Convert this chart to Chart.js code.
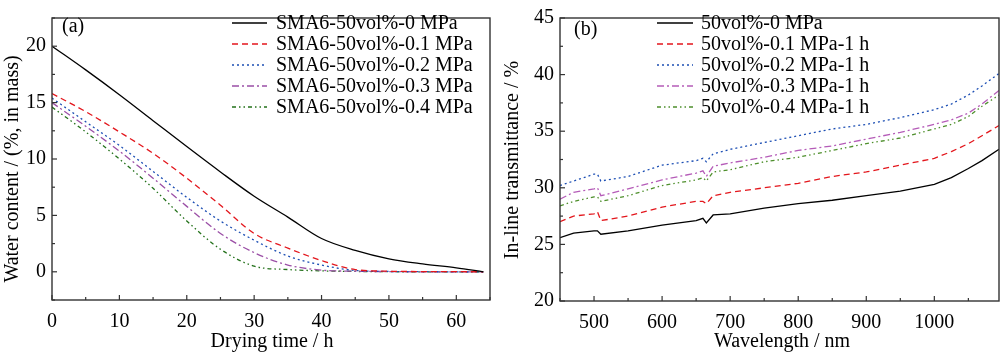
<!DOCTYPE html>
<html>
<head>
<meta charset="utf-8">
<script src="https://cdn.jsdelivr.net/npm/chart.js@4/dist/chart.umd.min.js"></script>
<style>
  body { margin: 0; background: #fff; }
  #wrap { position: relative; width: 1000px; height: 354px; }
  canvas { position: absolute; top: 0; }
</style>
</head>
<body>
<div id="wrap">
  <canvas id="chartA" width="500" height="354" style="left:0"></canvas>
  <canvas id="chartB" width="500" height="354" style="left:500px"></canvas>
</div>
<script>
// (a) drying curves
const dryingTime = [0, 5, 10, 15, 20, 25, 30, 35, 40, 45, 50, 55, 60, 64];
const water0 = [20.0, 17.9, 15.7, 13.4, 11.1, 8.85, 6.7, 4.85, 2.95, 1.9, 1.15, 0.7, 0.35, 0.0];
const water01 = [15.8, 14.2, 12.4, 10.5, 8.3, 5.9, 3.4, 2.1, 1.0, 0.2, 0.05, 0.02, 0.01, 0];
const water02 = [15.4, 13.3, 11.2, 8.9, 6.6, 4.5, 2.8, 1.4, 0.6, 0.12, 0.03, 0.01, 0, 0];
const water03 = [15.0, 12.9, 10.7, 8.3, 5.8, 3.4, 1.7, 0.6, 0.15, 0.05, 0.02, 0, 0, 0];
const water04 = [14.6, 12.4, 10.0, 7.4, 4.5, 2.0, 0.5, 0.2, 0.08, 0.03, 0.01, 0, 0, 0];
const labelsA = ['SMA6-50vol%-0 MPa', 'SMA6-50vol%-0.1 MPa', 'SMA6-50vol%-0.2 MPa',
                 'SMA6-50vol%-0.3 MPa', 'SMA6-50vol%-0.4 MPa'];

// (b) transmittance
const wavelength = [450, 470, 500, 505, 510, 550, 600, 650, 660, 665, 675, 700, 750, 800, 850, 900, 950, 1000, 1025, 1050, 1070, 1095];
const trans0  = [25.6, 26.0, 26.2, 26.2, 25.9, 26.2, 26.7, 27.1, 27.3, 26.9, 27.6, 27.7, 28.2, 28.6, 28.9, 29.3, 29.7, 30.3, 30.9, 31.7, 32.4, 33.4];
const trans01 = [27.0, 27.5, 27.7, 27.9, 27.1, 27.5, 28.3, 28.8, 28.8, 28.6, 29.3, 29.6, 30.0, 30.4, 31.0, 31.4, 32.0, 32.6, 33.2, 33.9, 34.6, 35.5];
const trans02 = [30.2, 30.6, 31.2, 31.2, 30.6, 31.0, 32.0, 32.4, 32.6, 32.3, 33.0, 33.4, 34.0, 34.6, 35.2, 35.6, 36.2, 36.9, 37.4, 38.2, 39.0, 40.1];
const trans03 = [29.0, 29.6, 29.9, 30.0, 29.3, 29.9, 30.7, 31.3, 31.5, 31.0, 31.9, 32.2, 32.7, 33.3, 33.7, 34.3, 34.9, 35.6, 36.0, 36.6, 37.4, 38.6];
const trans04 = [28.4, 28.8, 29.2, 29.2, 28.8, 29.3, 30.2, 30.7, 30.9, 30.6, 31.4, 31.6, 32.3, 32.7, 33.3, 33.9, 34.4, 35.2, 35.6, 36.3, 37.2, 38.2];
const labelsB = ['50vol%-0 MPa', '50vol%-0.1 MPa-1 h', '50vol%-0.2 MPa-1 h',
                 '50vol%-0.3 MPa-1 h', '50vol%-0.4 MPa-1 h'];

const FONT = 'Liberation Serif, Times New Roman, serif';
const colorsA = ['#000000', '#e3161c', '#1d4fb4', '#9b4fa6', '#23711a'];
const colorsB = ['#000000', '#e3161c', '#1d4fb4', '#b55cb8', '#4e8f2c'];
const dashes = [[], [6, 4], [2, 3], [7, 3, 2, 3], [4, 3, 1.5, 3, 1.5, 3]];

function toPoints(xs, ys) {
    return xs.map((x, i) => ({ x: x, y: ys[i] }));
}

function makeDatasets(xs, series, labels, colors, smooth) {
    return series.map((ys, i) => ({
        label: labels[i],
        data: toPoints(xs, ys),
        borderColor: colors[i],
        borderWidth: 1.3,
        borderDash: dashes[i],
        pointRadius: 0,
        fill: false,
        tension: 0,
        cubicInterpolationMode: smooth ? 'monotone' : 'default'
    }));
}

// frame, inward ticks, legend, panel label and axis titles
function framePlugin(cfg) {
    return {
        id: 'frame',
        afterDraw(chart) {
            const ctx = chart.ctx;
            const a = chart.chartArea;
            ctx.save();
            ctx.strokeStyle = '#333';
            ctx.lineWidth = 1.4;
            ctx.strokeRect(a.left, a.top, a.right - a.left, a.bottom - a.top);

            ctx.lineWidth = 1.2;
            const xs = chart.scales.x, ys = chart.scales.y;
            xs.ticks.forEach(t => {
                const p = xs.getPixelForValue(t.value);
                const len = t.value % cfg.xMajor === 0 ? 5 : 3;
                ctx.beginPath();
                ctx.moveTo(p, a.bottom);
                ctx.lineTo(p, a.bottom - len);
                ctx.stroke();
            });
            ys.ticks.forEach(t => {
                const p = ys.getPixelForValue(t.value);
                const len = t.value % cfg.yMajor === 0 ? 5 : 3;
                ctx.beginPath();
                ctx.moveTo(a.left, p);
                ctx.lineTo(a.left + len, p);
                ctx.stroke();
            });

            // legend
            ctx.font = '20px ' + FONT;
            ctx.textBaseline = 'middle';
            ctx.fillStyle = '#000';
            chart.data.datasets.forEach((ds, i) => {
                const y = cfg.legendY + i * 21;
                ctx.strokeStyle = ds.borderColor;
                ctx.lineWidth = 1.3;
                ctx.setLineDash(ds.borderDash);
                ctx.beginPath();
                ctx.moveTo(cfg.legendX0, y);
                ctx.lineTo(cfg.legendX1, y);
                ctx.stroke();
                ctx.setLineDash([]);
                ctx.fillText(ds.label, cfg.legendTextX, y + 1);
            });

            // panel label
            ctx.fillText(cfg.panel, cfg.panelX, cfg.panelY);

            // axis titles
            ctx.textAlign = 'center';
            ctx.fillText(cfg.xTitle, cfg.xTitleX, 342);
            ctx.translate(cfg.yTitleX, cfg.yTitleY);
            ctx.rotate(-Math.PI / 2);
            ctx.fillText(cfg.yTitle, 0, 0);
            ctx.restore();
        }
    };
}

function makeChart(id, datasets, sc, pad, cfg) {
    const tickFont = { family: FONT, size: 20 };
    return new Chart(document.getElementById(id), {
        type: 'line',
        data: { datasets: datasets },
        options: {
            responsive: false,
            animation: false,
            devicePixelRatio: 1,
            layout: { padding: pad },
            plugins: { legend: { display: false }, tooltip: { enabled: false } },
            scales: {
                x: {
                    type: 'linear',
                    min: sc.xMin, max: sc.xMax,
                    grid: { display: false, drawTicks: false },
                    border: { display: false },
                    ticks: {
                        stepSize: sc.xStep,
                        includeBounds: false,
                        autoSkip: false,
                        maxRotation: 0,
                        padding: 10,
                        color: '#000',
                        font: tickFont,
                        callback: v => (v % cfg.xMajor === 0 ? String(v) : '')
                    },
                    afterFit: s => { s.height = sc.xHeight; }
                },
                y: {
                    min: sc.yMin, max: sc.yMax,
                    grid: { display: false, drawTicks: false },
                    border: { display: false },
                    ticks: {
                        stepSize: sc.yStep,
                        autoSkip: false,
                        padding: 6,
                        color: '#000',
                        font: tickFont,
                        callback: v => (v % cfg.yMajor === 0 ? String(v) : '')
                    },
                    afterFit: s => { s.width = sc.yWidth; }
                }
            }
        },
        plugins: [framePlugin(cfg)]
    });
}

makeChart('chartA',
    makeDatasets(dryingTime, [water0, water01, water02, water03, water04], labelsA, colorsA, true),
    { xMin: 0, xMax: 65, xStep: 5, yMin: -2.5, yMax: 22.5, yStep: 2.5, xHeight: 54, yWidth: 52 },
    { top: 8, right: 9, left: 0, bottom: 0 },
    { xMajor: 10, yMajor: 5, legendY: 23, legendX0: 232, legendX1: 267, legendTextX: 276,
      panel: '(a)', panelX: 62, panelY: 27,
      xTitle: 'Drying time / h', xTitleX: 272,
      yTitle: 'Water content / (%, in mass)', yTitleX: 13, yTitleY: 169 });

makeChart('chartB',
    makeDatasets(wavelength, [trans0, trans01, trans02, trans03, trans04], labelsB, colorsB, false),
    { xMin: 450, xMax: 1095, xStep: 50, yMin: 20, yMax: 45, yStep: 2.5, xHeight: 53, yWidth: 60 },
    { top: 8, right: 1, left: 0, bottom: 0 },
    { xMajor: 100, yMajor: 5, legendY: 23, legendX0: 157, legendX1: 193, legendTextX: 201,
      panel: '(b)', panelX: 74, panelY: 30,
      xTitle: 'Wavelength / nm', xTitleX: 282,
      yTitle: 'In-line transmittance / %', yTitleX: 13, yTitleY: 160 });
</script>
</body>
</html>
